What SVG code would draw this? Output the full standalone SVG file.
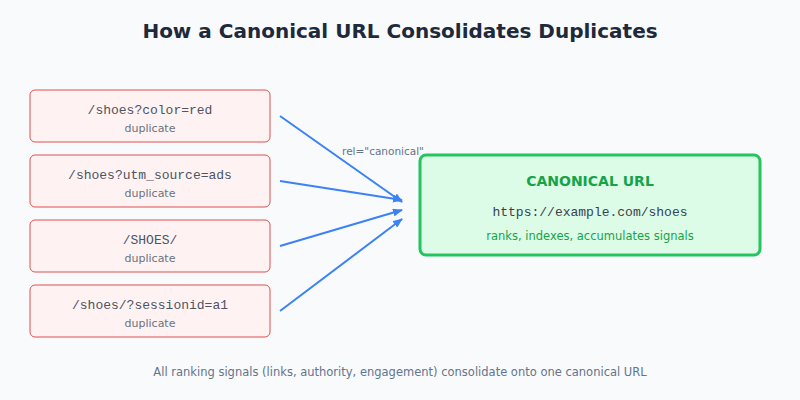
<svg xmlns="http://www.w3.org/2000/svg" width="800" height="400" viewBox="0 0 800 400">
<style>
.dup rect{fill:#fef2f2;stroke:#e05050;stroke-width:1}
.mono{font-family:"Liberation Mono",monospace;font-size:13px;fill:#4b5563;text-anchor:middle}
.sub{font-family:"DejaVu Sans",sans-serif;font-size:11px;fill:#6b7280;text-anchor:middle}
.c line{stroke:#3b82f6;stroke-width:2;marker-end:url(#ah)}
</style>
<defs><marker id="ah" markerWidth="10" markerHeight="8" refX="9" refY="4" orient="auto" markerUnits="userSpaceOnUse"><path d="M0,0L10,4L0,8Z" fill="#3b82f6"/></marker></defs>
<rect width="800" height="400" fill="#f8fafc"/>
<text x="400" y="38" text-anchor="middle" font-family="DejaVu Sans,sans-serif" font-size="20" font-weight="bold" fill="#1e293b">How a Canonical URL Consolidates Duplicates</text>
<g id="d1" class="dup"><rect x="30" y="90" width="240" height="52" rx="5"/><text class="mono" x="150" y="114">/shoes?color=red</text><text class="sub" x="150" y="132">duplicate</text></g>
<g id="d2" class="dup"><rect x="30" y="155" width="240" height="52" rx="5"/><text class="mono" x="150" y="179">/shoes?utm_source=ads</text><text class="sub" x="150" y="197">duplicate</text></g>
<g id="d3" class="dup"><rect x="30" y="220" width="240" height="52" rx="5"/><text class="mono" x="150" y="244">/SHOES/</text><text class="sub" x="150" y="262">duplicate</text></g>
<g id="d4" class="dup"><rect x="30" y="285" width="240" height="52" rx="5"/><text class="mono" x="150" y="309">/shoes/?sessionid=a1</text><text class="sub" x="150" y="327">duplicate</text></g>
<g id="canon"><rect x="420" y="155" width="340" height="100" rx="6" fill="#dcfce7" stroke="#22c55e" stroke-width="3"/>
<text x="590" y="186" text-anchor="middle" font-family="DejaVu Sans,sans-serif" font-size="14" font-weight="bold" fill="#16a34a">CANONICAL URL</text>
<text class="mono" x="590" y="216" style="fill:#374151">https://example.com/shoes</text>
<text x="590" y="240" text-anchor="middle" font-family="DejaVu Sans,sans-serif" font-size="11.5" fill="#16a34a">ranks, indexes, accumulates signals</text></g>
<g id="connectors" class="c">
<line x1="280" y1="116" x2="402" y2="202"/>
<line x1="280" y1="181" x2="402" y2="200"/>
<line x1="280" y1="246" x2="402" y2="210"/>
<line x1="280" y1="311" x2="402" y2="219"/>
<text x="383" y="155" text-anchor="middle" font-family="DejaVu Sans,sans-serif" font-size="10.5" fill="#64748b">rel="canonical"</text>
</g>
<text x="400" y="376" text-anchor="middle" font-family="DejaVu Sans,sans-serif" font-size="11.5" fill="#64748b">All ranking signals (links, authority, engagement) consolidate onto one canonical URL</text>
</svg>
